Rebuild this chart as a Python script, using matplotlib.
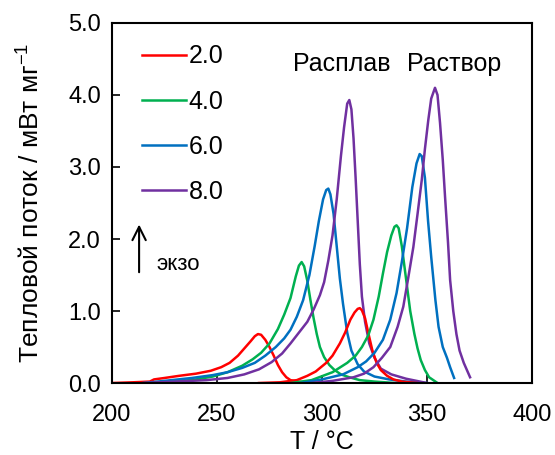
import matplotlib
matplotlib.use("Agg")
import matplotlib.pyplot as plt

plt.rcParams['font.family'] = ['Liberation Sans', 'DejaVu Sans']
plt.rcParams['mathtext.fontset'] = 'custom'
plt.rcParams['mathtext.rm'] = 'Liberation Sans'
plt.rcParams['mathtext.it'] = 'Liberation Sans'

# скорости нагрева
rates = ["2.0", "4.0", "6.0", "8.0"]
colors = ["#FF0000", "#00B050", "#0070C0", "#7030A0"]

# Расплав
melt_T_2 = [200, 210, 218, 220, 225, 232, 240, 247, 252, 256, 260, 263, 266, 268, 269.5, 271, 273, 275, 277, 279, 281, 283, 285, 288, 292, 300]
melt_q_2 = [0.0, 0.01, 0.02, 0.05, 0.07, 0.10, 0.13, 0.17, 0.22, 0.28, 0.38, 0.48, 0.58, 0.65, 0.68, 0.67, 0.60, 0.50, 0.38, 0.25, 0.15, 0.08, 0.04, 0.02, 0.01, 0.0]

melt_T_4 = [220, 230, 240, 248, 255, 262, 267, 271, 275, 279, 282, 285, 287.5, 289, 290.3, 291.5, 293, 294.5, 296, 297.5, 299, 301, 303.5, 306, 309, 313, 318, 325, 335]
melt_q_4 = [0.0, 0.02, 0.05, 0.09, 0.15, 0.24, 0.33, 0.42, 0.55, 0.75, 0.95, 1.18, 1.48, 1.63, 1.68, 1.62, 1.42, 1.15, 0.90, 0.68, 0.50, 0.36, 0.25, 0.18, 0.12, 0.08, 0.04, 0.02, 0.0]

melt_T_6 = [215, 225, 238, 248, 255, 262, 268, 273, 278, 282, 285, 288, 291, 294, 296.5, 298.5, 300.5, 302, 303, 304, 305.5, 307, 308.5, 310, 312, 314, 317, 320, 325, 332, 340, 350]
melt_q_6 = [0.0, 0.03, 0.07, 0.11, 0.15, 0.21, 0.28, 0.38, 0.50, 0.62, 0.74, 0.92, 1.15, 1.50, 1.90, 2.25, 2.55, 2.68, 2.70, 2.62, 2.35, 1.90, 1.45, 1.10, 0.70, 0.45, 0.26, 0.16, 0.09, 0.05, 0.02, 0.0]

melt_T_8 = [215, 230, 245, 255, 263, 270, 276, 281, 285, 289, 293, 296, 299, 301, 303, 305, 307, 309, 310.5, 312, 313, 314, 315, 316, 317, 318, 319, 320.5, 322.5, 325, 328, 333, 340, 350]
melt_q_8 = [0.0, 0.02, 0.04, 0.07, 0.12, 0.19, 0.29, 0.41, 0.55, 0.70, 0.85, 1.02, 1.22, 1.40, 1.70, 2.05, 2.55, 3.15, 3.55, 3.88, 3.93, 3.80, 3.40, 2.85, 2.25, 1.65, 1.20, 0.85, 0.55, 0.35, 0.20, 0.12, 0.06, 0.0]

# Раствор
sol_T_2 = [270, 280, 288, 293, 297, 302, 305, 308.5, 311, 313.5, 315.5, 317, 318, 319, 320.5, 322, 324, 326, 328, 331, 334, 338, 345]
sol_q_2 = [0.0, 0.01, 0.04, 0.10, 0.16, 0.28, 0.38, 0.55, 0.70, 0.88, 0.98, 1.03, 1.04, 1.01, 0.90, 0.70, 0.45, 0.28, 0.18, 0.10, 0.05, 0.02, 0.0]

sol_T_4 = [285, 295, 305, 312, 316, 319, 322, 324.5, 327, 329, 331, 333, 334.5, 335.5, 336.5, 338, 340, 342, 344, 345.5, 347, 349, 351, 355]
sol_q_4 = [0.0, 0.04, 0.15, 0.28, 0.38, 0.50, 0.66, 0.88, 1.20, 1.52, 1.82, 2.05, 2.17, 2.19, 2.15, 1.90, 1.45, 1.00, 0.68, 0.48, 0.32, 0.18, 0.08, 0.0]

sol_T_6 = [290, 300, 310, 317, 321, 325, 329, 332.5, 335.5, 338, 340.5, 343, 345, 346.5, 347.5, 349, 350.5, 352, 354, 355.5, 357.5, 359.5, 361, 362.9]
sol_q_6 = [0.0, 0.05, 0.12, 0.22, 0.30, 0.42, 0.60, 0.88, 1.25, 1.68, 2.15, 2.72, 3.05, 3.18, 3.15, 2.85, 2.25, 1.75, 1.15, 0.78, 0.50, 0.35, 0.22, 0.07]

sol_T_8 = [295, 305, 315, 320, 324.5, 328.5, 332.5, 336, 338.7, 341, 343.5, 345.5, 347.5, 349, 350.6, 352, 353.8, 355, 356.2, 357.5, 358.6, 360, 361, 362.5, 364, 365.5, 367.5, 370.5]
sol_q_8 = [0.0, 0.03, 0.08, 0.13, 0.22, 0.35, 0.50, 0.78, 1.06, 1.45, 1.89, 2.35, 2.82, 3.25, 3.65, 3.95, 4.10, 4.00, 3.61, 3.10, 2.58, 1.95, 1.43, 1.00, 0.68, 0.45, 0.28, 0.08]

melt = [(melt_T_2, melt_q_2), (melt_T_4, melt_q_4), (melt_T_6, melt_q_6), (melt_T_8, melt_q_8)]
sol = [(sol_T_2, sol_q_2), (sol_T_4, sol_q_4), (sol_T_6, sol_q_6), (sol_T_8, sol_q_8)]

fig = plt.figure(figsize=(5.55, 4.55), dpi=100)
ax = fig.add_axes([0.2018, 0.1582, 0.7568, 0.7913])

handles = []
for (t, q), c, r in zip(melt, colors, rates):
    h, = ax.plot(t, q, color=c, lw=1.8, label=r)
    handles.append(h)
for (t, q), c in zip(sol, colors):
    ax.plot(t, q, color=c, lw=1.8)

ax.set_xlim(200, 400)
ax.set_ylim(0, 5)
ax.set_xticks([200, 250, 300, 350, 400])
ax.set_yticks([0, 1, 2, 3, 4, 5])
ax.set_yticklabels(["%.1f" % v for v in [0, 1, 2, 3, 4, 5]])
ax.tick_params(direction='in', length=6, width=1.2, labelsize=17, pad=8)
ax.tick_params(axis='x', pad=15)
for s in ax.spines.values():
    s.set_linewidth(1.5)

ax.set_xlabel("T / °C", fontsize=18, labelpad=3)
ax.set_ylabel("Тепловой поток / мВт мг$^{-1}$", fontsize=19, labelpad=17)

ax.legend(handles=handles, loc='upper left', bbox_to_anchor=(0.041, 0.975), frameon=False,
          fontsize=18, handlelength=1.76, handletextpad=0.12, labelspacing=0.85, borderpad=0)

ax.text(309.5, 4.43, "Расплав", fontsize=18, ha='center', va='center')
ax.text(362.9, 4.43, "Раствор", fontsize=18, ha='center', va='center')

ax.annotate("", xy=(212.9, 2.24), xytext=(212.9, 1.5),
            arrowprops=dict(arrowstyle='->', lw=1.5, color='black', mutation_scale=24))
ax.text(221, 1.64, "экзо", fontsize=16, ha='left', va='center')

fig.savefig("out.png", dpi=100)
